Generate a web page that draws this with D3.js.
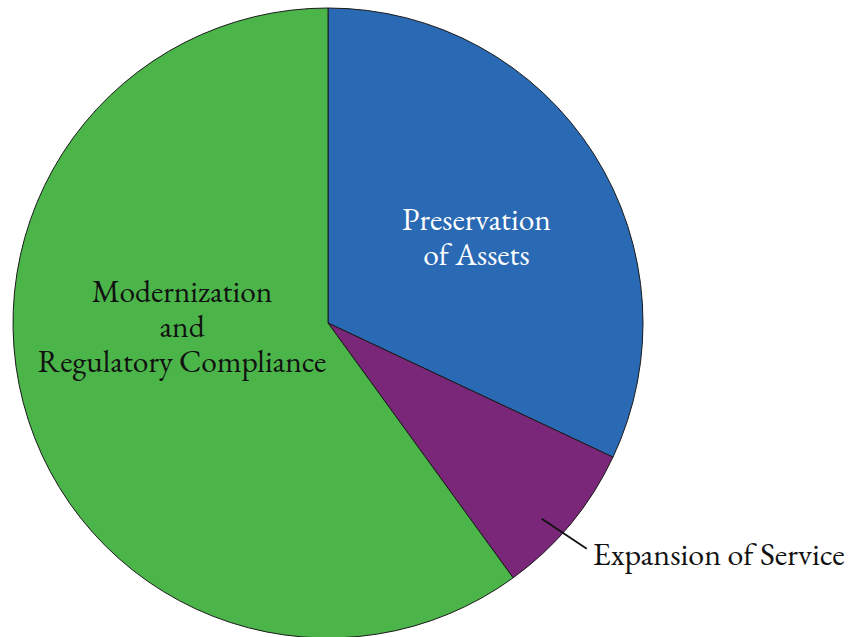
<!DOCTYPE html>
<html>
<head>
<meta charset="utf-8">
<script src="https://cdn.jsdelivr.net/npm/d3@7"></script>
<style>
  html, body { margin: 0; padding: 0; background: #fff; }
  svg { display: block; }
</style>
</head>
<body>
<svg id="chart" width="849" height="637"></svg>
<script>
// Share of program spending by category (percent)
const categories = ["Preservation of Assets", "Expansion of Service", "Modernization and Regulatory Compliance"];
const shares = [32, 8, 60];
const colors = ["#2a69b3", "#7a2679", "#4bb54a"];

const FONT = "'EB Garamond', 'Liberation Serif', serif";
const cx = 328, cy = 323, radius = 315;

const svg = d3.select("#chart");
const g = svg.append("g").attr("transform", `translate(${cx},${cy})`);

const data = categories.map((c, i) => ({ name: c, value: shares[i], color: colors[i] }));

const pie = d3.pie().sort(null).value(d => d.value).startAngle(0).endAngle(2 * Math.PI);
const arc = d3.arc().innerRadius(0).outerRadius(radius);
const arcs = pie(data);

g.selectAll("path.slice")
  .data(arcs)
  .join("path")
  .attr("class", "slice")
  .attr("d", arc)
  .attr("fill", d => d.data.color)
  .attr("stroke", "#1a1a1a")
  .attr("stroke-width", 1);

// Multi-line labels inside the two large slices
const inner = [
  { idx: 0, lines: ["Preservation", "of Assets"], fill: "#ffffff", x: 148.5, y: -93 },
  { idx: 2, lines: ["Modernization", "and", "Regulatory Compliance"], fill: "#111111", x: -146, y: -21 }
];
const lineH = 35;
inner.forEach(l => {
  const t = g.append("text")
    .attr("text-anchor", "middle")
    .attr("font-family", FONT)
    .attr("fill", l.fill)
    .attr("font-size", 31.5);
  l.lines.forEach((s, i) => {
    t.append("tspan")
      .attr("x", l.x)
      .attr("y", l.y + i * lineH)
      .text(s);
  });
});

// Outside label with a leader line for the small slice
const small = arcs[1];
const ang = small.startAngle + 0.6 * (small.endAngle - small.startAngle);
const p0 = [Math.sin(ang) * radius * 0.92, -Math.cos(ang) * radius * 0.92];
const p1 = [p0[0] + 45, p0[1] + 30];
g.append("line")
  .attr("x1", p0[0]).attr("y1", p0[1])
  .attr("x2", p1[0]).attr("y2", p1[1])
  .attr("stroke", "#111").attr("stroke-width", 1.8);
g.append("text")
  .attr("x", p1[0] + 6)
  .attr("y", p1[1] + 16)
  .attr("font-family", FONT)
  .attr("fill", "#111")
  .attr("font-size", 32)
  .text(categories[1]);
</script>
</body>
</html>
